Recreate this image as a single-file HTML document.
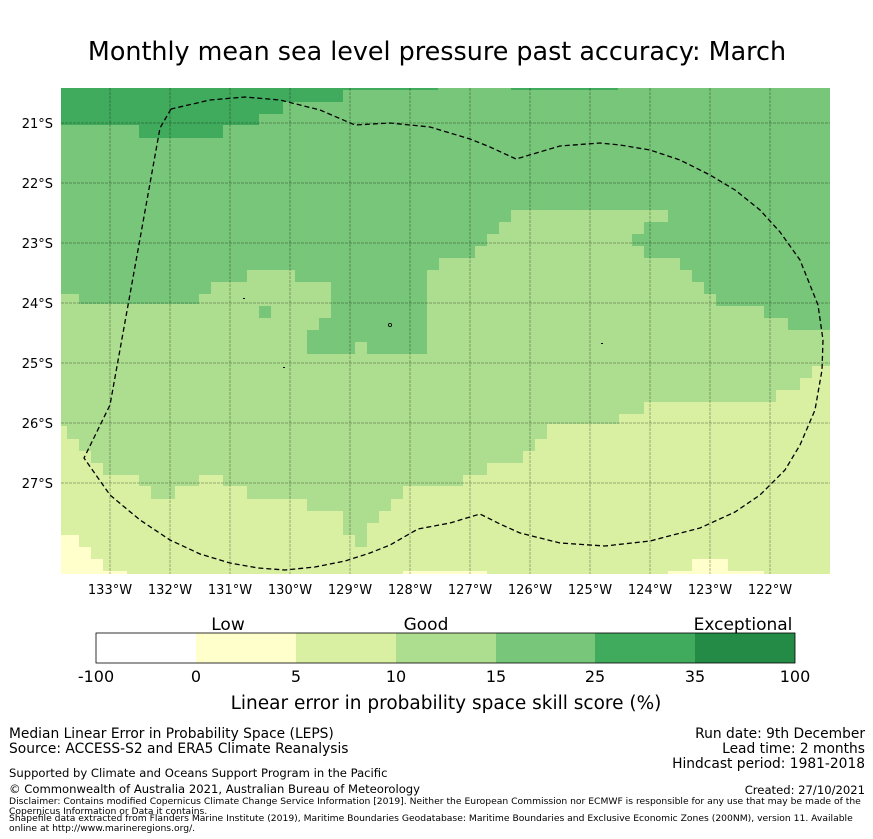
<!DOCTYPE html>
<html><head><meta charset="utf-8"><style>
body{margin:0;background:#fff;width:873px;height:839px;overflow:hidden;font-family:"DejaVu Sans",sans-serif}
svg{display:block}
</style></head><body>
<svg width="873" height="839" viewBox="0 0 873 839" xmlns="http://www.w3.org/2000/svg" font-family="DejaVu Sans, Liberation Sans, sans-serif">
<text x="437" y="60" font-size="25.4" text-anchor="middle">Monthly mean sea level pressure past accuracy: March</text>
<g>
<defs><clipPath id="mc"><rect x="61" y="88" width="769" height="486"/></clipPath></defs>
<g clip-path="url(#mc)">
<rect x="61" y="88" width="769" height="486" fill="#addd8e"/>
<polygon fill="#d9f0a3" points="61,426 67,426 67,439 79,439 79,451 91,451 91,463 103,463 103,475 139,475 139,486 151,486 151,499 175,499 175,486 199,486 199,475 223,475 223,486 247,486 247,499 307,499 307,511 343,511 343,535 355,535 355,547 367,547 367,523 379,523 379,511 391,511 391,499 403,499 403,486 463,486 463,475 487,475 487,463 523,463 523,451 535,451 535,439 547,439 547,424 619,424 619,414 644,414 644,402 776,402 776,390 800,390 800,378 812,378 812,366 830,366 830,574 61,574"/>
<g fill="#ffffcc">
<polygon points="61,535 79,535 79,547 91,547 91,559 103,559 103,571 127,571 127,574 61,574"/>
<rect x="403" y="571" width="84" height="3"/>
<polygon points="668,571 692,571 692,559 728,559 728,571 764,571 764,574 668,574"/>
</g>
<g fill="#78c679">
<polygon points="61,88 830,88 830,330 788,330 788,318 764,318 764,306 716,306 716,294 704,294 704,282 692,282 692,270 680,270 680,258 644,258 644,246 632,246 632,234 644,234 644,222 668,222 668,210 511,210 511,222 499,222 499,234 487,234 487,246 475,246 475,258 439,258 439,270 427,270 427,354 367,354 367,342 355,342 355,354 307,354 307,330 319,330 319,318 331,318 331,282 295,282 295,270 247,270 247,282 211,282 211,294 199,294 199,304 79,304 79,294 61,294"/>
<rect x="259" y="306" width="12" height="12"/>
</g>
<g fill="#41ab5d">
<polygon points="61,88 343,88 343,102 283,102 283,114 259,114 259,125 223,125 223,138 139,138 139,125 61,125"/>
<rect x="343" y="88" width="95" height="2"/>
<rect x="511" y="88" width="107" height="2"/>
</g>
<g stroke="#000" stroke-opacity="0.3" stroke-width="1" stroke-dasharray="3,1">
<line x1="110" y1="88" x2="110" y2="574"/><line x1="170" y1="88" x2="170" y2="574"/><line x1="230" y1="88" x2="230" y2="574"/><line x1="290" y1="88" x2="290" y2="574"/><line x1="350" y1="88" x2="350" y2="574"/><line x1="410" y1="88" x2="410" y2="574"/><line x1="470" y1="88" x2="470" y2="574"/><line x1="530" y1="88" x2="530" y2="574"/><line x1="590" y1="88" x2="590" y2="574"/><line x1="650" y1="88" x2="650" y2="574"/><line x1="710" y1="88" x2="710" y2="574"/><line x1="770" y1="88" x2="770" y2="574"/>
<line x1="61" y1="123" x2="830" y2="123"/><line x1="61" y1="183" x2="830" y2="183"/><line x1="61" y1="243" x2="830" y2="243"/><line x1="61" y1="303" x2="830" y2="303"/><line x1="61" y1="363" x2="830" y2="363"/><line x1="61" y1="423" x2="830" y2="423"/><line x1="61" y1="483" x2="830" y2="483"/>
</g>
<g fill="#000">
<rect x="243" y="298" width="2" height="1"/><circle cx="390" cy="325" r="1.6" fill="none" stroke="#000" stroke-width="0.8"/><rect x="283" y="367" width="2" height="1"/><rect x="601" y="343" width="2" height="1"/>
</g>
<polyline fill="none" stroke="#000" stroke-width="1.3" stroke-dasharray="5,3" points="171,109 160,128 110,405 84,458 110,495 140,520 170,540 200,554 230,563 258,568 285,570 315,567 345,561 370,553 390,545 418,529 450,523 480,514 500,524 520,533 560,543 605,546 650,541 700,528 735,512 760,495 785,470 800,445 815,410 822,370 823,340 818,305 800,260 780,232 760,210 735,190 710,175 680,160 650,150 620,145 600,143 560,146 516,159 490,147 470,139 430,127 390,123 355,125 320,110 280,100 245,97 210,100 171,109"/>
</g>
<g font-size="13" text-anchor="middle">
<text x="110" y="594">133°W</text><text x="170" y="594">132°W</text><text x="230" y="594">131°W</text><text x="290" y="594">130°W</text><text x="350" y="594">129°W</text><text x="410" y="594">128°W</text><text x="470" y="594">127°W</text><text x="530" y="594">126°W</text><text x="590" y="594">125°W</text><text x="650" y="594">124°W</text><text x="710" y="594">123°W</text><text x="770" y="594">122°W</text>
</g>
<g font-size="13" text-anchor="end">
<text x="53" y="128">21°S</text><text x="53" y="188">22°S</text><text x="53" y="248">23°S</text><text x="53" y="308">24°S</text><text x="53" y="368">25°S</text><text x="53" y="428">26°S</text><text x="53" y="488">27°S</text>
</g>
</g>
<g>
<rect x="96" y="633" width="100" height="30" fill="#ffffff"/>
<rect x="196" y="633" width="100" height="30" fill="#ffffcc"/>
<rect x="296" y="633" width="100" height="30" fill="#d9f0a3"/>
<rect x="396" y="633" width="100" height="30" fill="#addd8e"/>
<rect x="496" y="633" width="99" height="30" fill="#78c679"/>
<rect x="595" y="633" width="100" height="30" fill="#41ab5d"/>
<rect x="695" y="633" width="100" height="30" fill="#238b45"/>
<rect x="96" y="633" width="699" height="30" fill="none" stroke="#000" stroke-width="0.8"/>
<g font-size="16" text-anchor="middle">
<text x="96" y="682">-100</text><text x="196" y="682">0</text><text x="296" y="682">5</text><text x="396" y="682">10</text><text x="496" y="682">15</text><text x="595" y="682">25</text><text x="695" y="682">35</text><text x="795" y="682">100</text>
</g>
<g font-size="17" text-anchor="middle">
<text x="228" y="630">Low</text>
<text x="426" y="630">Good</text>
<text x="743" y="630">Exceptional</text>
</g>
<text x="446" y="709" font-size="18.5" text-anchor="middle">Linear error in probability space skill score (%)</text>
</g>
<g font-size="13.8">
<text x="9" y="738">Median Linear Error in Probability Space (LEPS)</text>
<text x="9" y="753">Source: ACCESS-S2 and ERA5 Climate Reanalysis</text>
<text x="865" y="738" text-anchor="end">Run date: 9th December</text>
<text x="865" y="753" text-anchor="end">Lead time: 2 months</text>
<text x="865" y="768" text-anchor="end">Hindcast period: 1981-2018</text>
<text x="9" y="777" font-size="11.6">Supported by Climate and Oceans Support Program in the Pacific</text>
<text x="9" y="793" font-size="11.6">© Commonwealth of Australia 2021, Australian Bureau of Meteorology</text>
<text x="865" y="794" font-size="11.6" text-anchor="end">Created: 27/10/2021</text>
<g font-size="9.2">
<text x="9" y="804">Disclaimer: Contains modified Copernicus Climate Change Service Information [2019]. Neither the European Commission nor ECMWF is responsible for any use that may be made of the</text>
<text x="9" y="814">Copernicus Information or Data it contains.</text>
<text x="9" y="821">Shapefile data extracted from Flanders Marine Institute (2019), Maritime Boundaries Geodatabase: Maritime Boundaries and Exclusive Economic Zones (200NM), version 11. Available</text>
<text x="9" y="831">online at http://www.marineregions.org/.</text>
</g>
</g>
</svg>
</body></html>
